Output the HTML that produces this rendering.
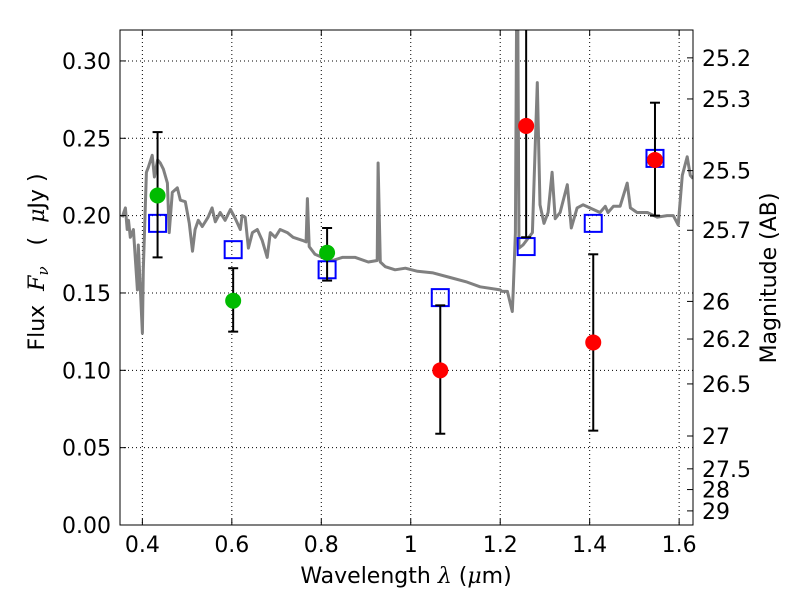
<!DOCTYPE html>
<html><head><meta charset="utf-8">
<style>
body{margin:0;background:#fff;}
svg{display:block;font-family:"DejaVu Sans","Liberation Sans",sans-serif;}
</style></head>
<body>
<svg id="chart" width="800" height="600" viewBox="0 0 800 600" xmlns="http://www.w3.org/2000/svg">
<rect x="0" y="0" width="800" height="600" fill="#fff"/>
<g id="grid"></g>
<g id="spec"></g>
<g id="marks"></g>
<rect x="120" y="30" width="573" height="495" fill="none" stroke="#000" stroke-width="1"/>
<g id="axes"></g>
<text x="406" y="583" font-size="22" text-anchor="middle">Wavelength  <tspan font-style="italic" font-family="DejaVu Serif, serif">λ</tspan> (<tspan font-style="italic" font-family="DejaVu Serif, serif">μ</tspan>m)</text>
<text transform="translate(44,262) rotate(-90)" font-size="22" text-anchor="middle" xml:space="preserve">Flux  <tspan font-style="italic" font-family="DejaVu Serif, serif">F</tspan><tspan font-style="italic" font-family="DejaVu Serif, serif" font-size="15" dy="4">ν</tspan><tspan dy="-4">   (  <tspan font-style="italic" font-family="DejaVu Serif, serif">μ</tspan>Jy )</tspan></text>
<text transform="translate(776,278) rotate(-90)" font-size="22" text-anchor="middle">Magnitude (AB)</text>
</svg>
<script>
const specWave=[0.355,0.362,0.366,0.369,0.373,0.380,0.389,0.391,0.400,0.402,0.409,0.413,0.422,0.427,0.434,0.440,0.447,0.456,0.460,0.467,0.478,0.485,0.496,0.505,0.512,0.518,0.525,0.534,0.547,0.556,0.563,0.574,0.585,0.597,0.608,0.619,0.623,0.630,0.637,0.646,0.657,0.668,0.679,0.686,0.697,0.708,0.724,0.737,0.758,0.766,0.769,0.773,0.786,0.802,0.825,0.847,0.876,0.905,0.925,0.927,0.932,0.943,0.965,0.988,1.015,1.050,1.088,1.126,1.155,1.200,1.204,1.216,1.227,1.229,1.234,1.238,1.242,1.251,1.272,1.283,1.289,1.298,1.307,1.316,1.323,1.334,1.350,1.359,1.372,1.385,1.423,1.435,1.441,1.453,1.468,1.484,1.491,1.506,1.529,1.551,1.573,1.587,1.598,1.607,1.618,1.625,1.631];
const specFlux=[0.199,0.205,0.191,0.197,0.186,0.191,0.152,0.181,0.124,0.165,0.228,0.231,0.239,0.225,0.236,0.234,0.230,0.221,0.189,0.215,0.218,0.210,0.209,0.195,0.177,0.191,0.197,0.193,0.199,0.205,0.196,0.202,0.197,0.204,0.198,0.191,0.200,0.199,0.179,0.189,0.191,0.184,0.173,0.189,0.186,0.191,0.189,0.186,0.184,0.183,0.211,0.180,0.175,0.173,0.171,0.173,0.173,0.170,0.171,0.234,0.170,0.167,0.165,0.166,0.164,0.163,0.160,0.157,0.154,0.152,0.151,0.151,0.138,0.151,0.189,0.40,0.179,0.181,0.189,0.286,0.207,0.195,0.202,0.228,0.198,0.202,0.220,0.192,0.205,0.207,0.202,0.206,0.202,0.206,0.206,0.221,0.205,0.202,0.202,0.199,0.200,0.200,0.194,0.226,0.238,0.226,0.224];
const greenWave=[0.434,0.603,0.813];
const greenFlux=[0.213,0.145,0.176];
const greenHi=[0.254,0.166,0.192];
const greenLo=[0.173,0.125,0.158];
const redWave=[1.066,1.258,1.408,1.546];
const redFlux=[0.100,0.258,0.118,0.236];
const redHi=[0.142,0.40,0.175,0.273];
const redLo=[0.059,0.186,0.061,0.200];
const modelWave=[0.434,0.603,0.813,1.066,1.258,1.408,1.546];
const modelFlux=[0.195,0.178,0.165,0.147,0.180,0.195,0.237];
const xTicks=[0.4,0.6,0.8,1.0,1.2,1.4,1.6];
const xTickLabels=["0.4","0.6","0.8","1","1.2","1.4","1.6"];
const yTicks=[0,0.05,0.10,0.15,0.20,0.25,0.30];
const yTickLabels=["0.00","0.05","0.10","0.15","0.20","0.25","0.30"];
const magTicks=[25.2,25.3,25.5,25.7,26,26.2,26.5,27,27.5,28,29];
const magTickLabels=["25.2","25.3","25.5","25.7","26","26.2","26.5","27","27.5","28","29"];

const L=120,R=693,T=30,B=525,X0=0.35,X1=1.631,Y0=0,Y1=0.32;
const sx=v=>L+(v-X0)/(X1-X0)*(R-L);
const sy=v=>B-(v-Y0)/(Y1-Y0)*(B-T);
const NS="http://www.w3.org/2000/svg";
function mk(tag,attrs,parent){const e=document.createElementNS(NS,tag);for(const k in attrs)e.setAttribute(k,attrs[k]);parent.appendChild(e);return e;}
const grid=document.getElementById('grid'),axes=document.getElementById('axes'),spec=document.getElementById('spec'),marks=document.getElementById('marks');

xTicks.forEach((t,i)=>{const x=sx(t);
 let g=mk('line',{x1:x,x2:x,y1:T,y2:B,stroke:'#000','stroke-width':1,'stroke-dasharray':'1,3'},grid);
 
 mk('line',{x1:x,x2:x,y1:B,y2:B-6,stroke:'#000'},axes);mk('line',{x1:x,x2:x,y1:T,y2:T+6,stroke:'#000'},axes);
 let tx=mk('text',{x:x,y:B+27,'font-size':22,'text-anchor':'middle'},axes);tx.textContent=xTickLabels[i];
 });
yTicks.forEach((t,i)=>{const y=sy(t);
 let g=mk('line',{x1:L,x2:R,y1:y,y2:y,stroke:'#000','stroke-width':1,'stroke-dasharray':'1,3'},grid);
 
 mk('line',{x1:L,x2:L+6,y1:y,y2:y,stroke:'#000'},axes);
 let tx=mk('text',{x:L-9,y:y+8,'font-size':22,'text-anchor':'end'},axes);tx.textContent=yTickLabels[i];
 });
magTicks.forEach((m,i)=>{const f=Math.pow(10,(23.9-m)/2.5);const y=sy(f);
 mk('line',{x1:R,x2:R-6,y1:y,y2:y,stroke:'#000'},axes);
 let tx=mk('text',{x:R+9,y:y+8,'font-size':22},axes);tx.textContent=magTickLabels[i];
 });

const cp=mk('clipPath',{id:'clip'},document.getElementById('chart'));mk('rect',{x:L,y:T,width:R-L,height:B-T},cp);
spec.setAttribute('clip-path','url(#clip)');marks.setAttribute('clip-path','url(#clip)');
let d=specWave.map((w,i)=>(i?'L':'M')+sx(w).toFixed(1)+','+sy(specFlux[i]).toFixed(1)).join(' ');
const sp=mk('path',{d:d,fill:'none',stroke:'#808080','stroke-width':3,'stroke-linejoin':'round'},spec);


function errbar(w,lo,hi){const x=sx(w);
 const e=mk('line',{x1:x,x2:x,y1:sy(lo),y2:sy(hi),stroke:'#000','stroke-width':2},marks);
 
 mk('line',{x1:x-5,x2:x+5,y1:sy(lo),y2:sy(lo),stroke:'#000','stroke-width':2},marks);
 mk('line',{x1:x-5,x2:x+5,y1:sy(hi),y2:sy(hi),stroke:'#000','stroke-width':2},marks);}
modelWave.forEach((w,i)=>{const s=mk('rect',{x:sx(w)-8.5,y:sy(modelFlux[i])-8.5,width:17,height:17,fill:'none',stroke:'#0000ff','stroke-width':2},marks);
 });
greenWave.forEach((w,i)=>{errbar(w,greenLo[i],greenHi[i]);
 const c=mk('circle',{cx:sx(w),cy:sy(greenFlux[i]),r:8,fill:'#00bb00'},marks);
 });
redWave.forEach((w,i)=>{errbar(w,redLo[i],redHi[i]);
 const c=mk('circle',{cx:sx(w),cy:sy(redFlux[i]),r:8,fill:'#ff0000'},marks);
 });
</script>
</body></html>
